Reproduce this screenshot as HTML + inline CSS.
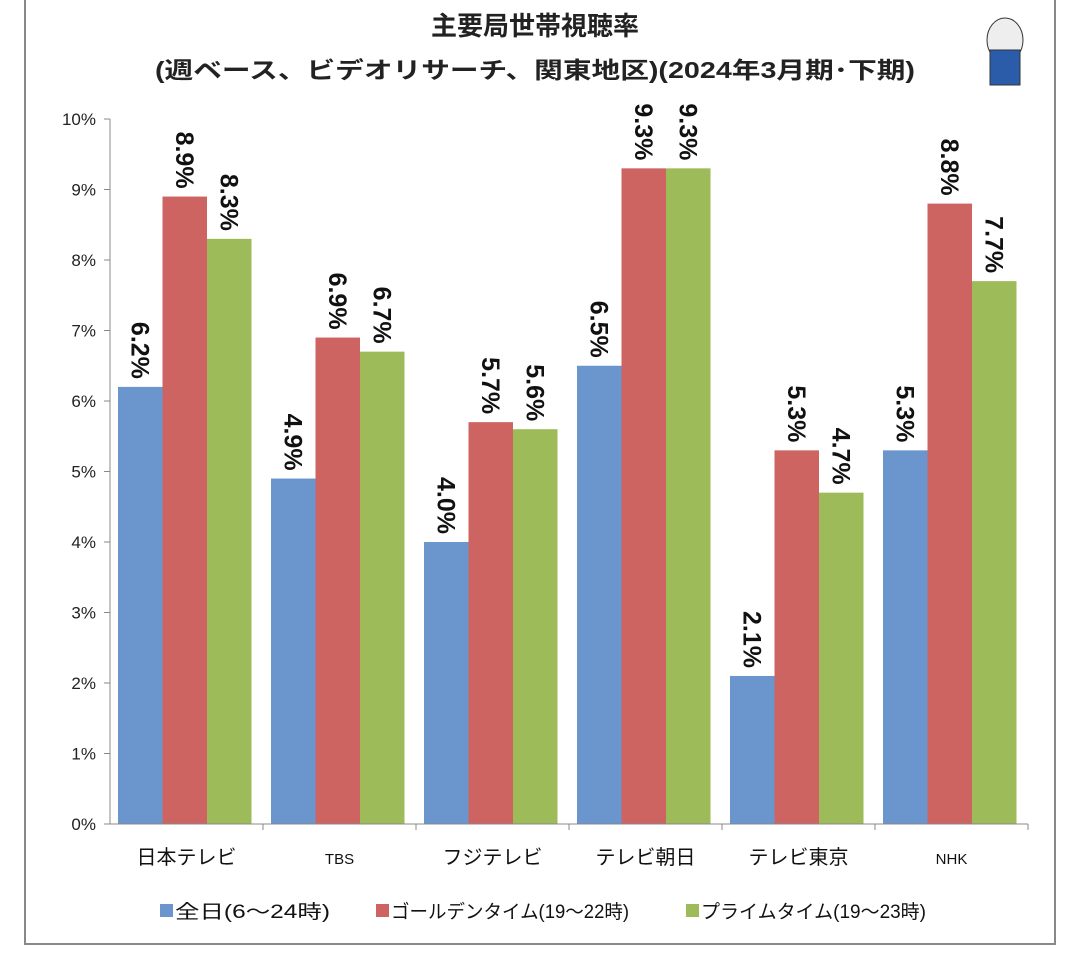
<!DOCTYPE html>
<html><head><meta charset="utf-8"><style>
body{margin:0;background:#fff;width:1080px;height:951px;overflow:hidden;font-family:"Liberation Sans","Noto Sans CJK JP",sans-serif}
</style></head><body>
<svg id="chart" width="1080" height="951" xmlns="http://www.w3.org/2000/svg" font-family="Liberation Sans, Noto Sans CJK JP, sans-serif">
<rect x="25" y="-2" width="1030" height="946" fill="#fff" stroke="#888" stroke-width="2"/>
<text x="535" y="35" text-anchor="middle" font-size="26" font-weight="bold" fill="#222">主要局世帯視聴率</text>
<text x="535" y="78" text-anchor="middle" font-size="23" font-weight="bold" fill="#222" textLength="760" lengthAdjust="spacingAndGlyphs">(週ベース、ビデオリサーチ、関東地区)(2024年3月期･下期)</text>
<g>
<ellipse cx="1005" cy="40" rx="18" ry="22" fill="#eee" stroke="#333"/>
<rect x="990" y="50" width="30" height="35" fill="#2a5caa" stroke="#333"/>
</g>
<g id="plot"></g>
<g id="legend"></g>
</svg>
<script>
const categories=["日本テレビ","TBS","フジテレビ","テレビ朝日","テレビ東京","NHK"];
const allDay=[6.2,4.9,4.0,6.5,2.1,5.3];
const golden=[8.9,6.9,5.7,9.3,5.3,8.8];
const prime=[8.3,6.7,5.6,9.3,4.7,7.7];
const yTicks=[0,1,2,3,4,5,6,7,8,9,10];
const seriesNames=["全日(6～24時)","ゴールデンタイム(19～22時)","プライムタイム(19～23時)"];
const colors=["#6a95cd","#cd6462","#9dbb58"];
const NS="http://www.w3.org/2000/svg";
const X0=110,X1=1028,Y0=824,Y1=119;
const y=v=>Y0-(v/10)*(Y0-Y1);
const gw=(X1-X0)/categories.length;
const x=i=>X0+i*gw;
const plot=document.getElementById('plot');
function mk(t,a,p){const e=document.createElementNS(NS,t);for(const k in a)e.setAttribute(k,a[k]);(p||plot).appendChild(e);return e;}
yTicks.forEach(t=>{
 const tl=mk('line',{x1:X0-6,x2:X0,y1:y(t),y2:y(t),stroke:'#888'});
 
 
 const lb=mk('text',{x:X0-14,y:y(t)+6,'text-anchor':'end','font-size':17,fill:'#222'});
 lb.textContent=t+'%';
 
 
});
const ax=mk('line',{x1:X0,x2:X0,y1:Y1,y2:Y0,stroke:'#888'});


const series=[allDay,golden,prime];
categories.forEach((c,i)=>{
 const bw=44.5,off=8;
 series.forEach((s,k)=>{
  const bx=x(i)+off+k*bw;
  const r=mk('rect',{x:bx,y:y(s[i]),width:bw,height:Y0-y(s[i]),fill:colors[k]});
  
  
  const t=mk('text',{x:0,y:0,'font-size':25,'font-weight':'bold',fill:'#111','text-anchor':'end',transform:`translate(${bx+bw/2-9},${y(s[i])-8}) rotate(90)`});
  t.textContent=s[i].toFixed(1)+'%';
  
  
 });
 const tk=mk('line',{x1:x(i+1),x2:x(i+1),y1:Y0,y2:Y0+6,stroke:'#888'});
 
 
 const isLatin=/^[A-Z]+$/.test(c);
 const cl=mk('text',{x:x(i)+gw/2,y:864,'text-anchor':'middle','font-size':isLatin?15:20,fill:'#111'});
 cl.textContent=c;
 
 
});
const xa=mk('line',{x1:X0-6,x2:X1,y1:Y0,y2:Y0,stroke:'#888'});


const lg=document.getElementById('legend');
const lx=[160,376,686];
const lw=[155,238,225];
seriesNames.forEach((n,k)=>{
 const g=mk('g',{},lg);
 
 
 mk('rect',{x:lx[k],y:904,width:13,height:13,fill:colors[k]},g);
 const t=mk('text',{x:lx[k]+15,y:918,'font-size':19,fill:'#111',textLength:lw[k],lengthAdjust:'spacingAndGlyphs'},g);
 t.textContent=n;
});
</script>
</body></html>
